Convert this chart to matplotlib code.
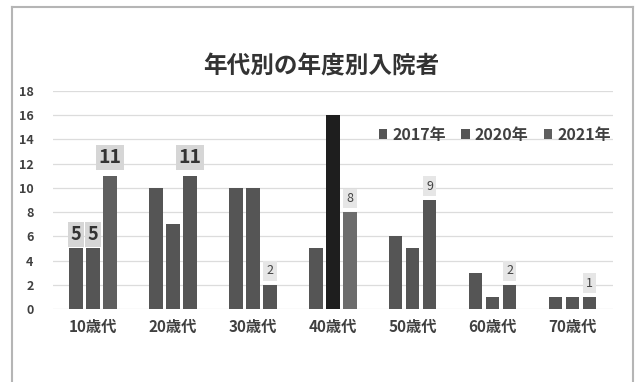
import numpy as np
import matplotlib
matplotlib.use("Agg")
import matplotlib.pyplot as plt
from matplotlib.lines import Line2D

plt.rcParams['font.family'] = ['Noto Sans CJK JP', 'DejaVu Sans']

# data
categories = ["10歳代", "20歳代", "30歳代", "40歳代", "50歳代", "60歳代", "70歳代"]
series_names = ["2017年", "2020年", "2021年"]
v2017 = [5, 10, 10, 5, 6, 3, 1]
v2020 = [5, 7, 10, 16, 5, 1, 1]
v2021 = [11, 11, 2, 8, 9, 2, 1]
yticks = [0, 2, 4, 6, 8, 10, 12, 14, 16, 18]

fig = plt.figure(figsize=(6.39, 3.82), dpi=100)
ax = fig.add_axes([0.083, 0.191, 0.876, 0.571])

x = np.arange(len(categories))
w = 0.165
step = 0.2125
bar_color = "#555555"

b1 = ax.bar(x - step, v2017, w, color=bar_color, label=series_names[0], zorder=3)
b2 = ax.bar(x, v2020, w, color=bar_color, label=series_names[1], zorder=3)
b3 = ax.bar(x + step, v2021, w, color=bar_color, label=series_names[2], zorder=3)

# a few bars look different in the scan
b2[3].set_facecolor("#1e1e1e")
b3[3].set_facecolor("#6c6c6c")
b3[0].set_facecolor("#5f5f5f")

ax.set_xlim(-0.5, len(categories) - 0.5)
ax.set_ylim(0, 18)
ax.set_yticks(yticks)
ax.set_xticks(x)
ax.set_xticklabels(categories, fontsize=11, color="#404040")
ax.tick_params(axis='y', labelsize=9, colors="#404040", length=0, pad=14)
ax.tick_params(axis='x', length=0, pad=7)
for lab in ax.get_yticklabels():
    lab.set_fontweight("bold")
for lab in ax.get_xticklabels():
    lab.set_fontweight("bold")
ax.grid(axis='y', color="#dcdcdc", linewidth=0.9, zorder=0)
ax.set_axisbelow(True)
for s in ax.spines.values():
    s.set_visible(False)

# value labels
big = dict(fontsize=13, fontweight="bold", color="#333333",
           bbox=dict(boxstyle="square,pad=0.15", fc="#d6d6d6", ec="none"))
big11 = dict(big, fontsize=14)
small = dict(fontsize=9, color="#444444",
             bbox=dict(boxstyle="square,pad=0.25", fc="#e6e6e6", ec="none"))

def label(bar, val, style, off):
    ax.annotate(str(val), (bar.get_x() + bar.get_width() / 2, bar.get_height()),
                xytext=(0, off), textcoords="offset points",
                ha="center", va="center", zorder=4, **style)

label(b1[0], v2017[0], big, 10)
label(b2[0], v2020[0], big, 10)
label(b3[0], v2021[0], big11, 13)
label(b3[1], v2021[1], big11, 13)
for i in [2, 3, 4, 5, 6]:
    label(b3[i], v2021[i], small, 10)

leg = ax.legend(ncol=3, loc="center right", bbox_to_anchor=(1.022, 0.80),
                frameon=False, handlelength=0.55, handleheight=0.55,
                handletextpad=0.3, columnspacing=0.95,
                prop=dict(size=11.5, weight="bold"))
for t in leg.get_texts():
    t.set_color("#404040")

fig.text(0.503, 0.825, "年代別の年度別入院者", ha="center", va="center",
         fontsize=17, fontweight="bold", color="#333333")

# outer chart frame (bottom edge is cut off in the scan)
fx0, fx1, fy = 11.5 / 639, 632.5 / 639, 1 - 6.5 / 382
for xs, ys in [([fx0, fx0], [0, fy]), ([fx0, fx1], [fy, fy]), ([fx1, fx1], [fy, 0])]:
    fig.add_artist(Line2D(xs, ys, color="#b5b5b5", linewidth=1.5, transform=fig.transFigure))

fig.savefig("out.png", dpi=100)
